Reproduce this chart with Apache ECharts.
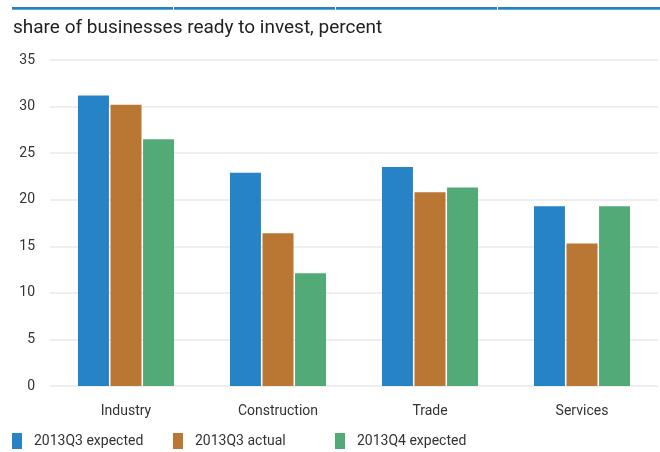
<!DOCTYPE html>
<html>
<head>
<meta charset="utf-8">
<script src="https://cdn.jsdelivr.net/npm/echarts@6/dist/echarts.min.js"></script>
<style>
  html, body { margin: 0; padding: 0; background: #fff; }
  #chart { width: 660px; height: 452px; }
</style>
</head>
<body>
<div id="chart"></div>
<script>
// Sectors and survey readings (percent of businesses ready to invest)
const categories = ['Industry', 'Construction', 'Trade', 'Services'];
const seriesNames = ['2013Q3 expected', '2013Q3 actual', '2013Q4 expected'];
const q3Expected = [31.2, 22.9, 23.5, 19.3];
const q3Actual = [30.2, 16.4, 20.8, 15.3];
const q4Expected = [26.5, 12.1, 21.3, 19.3];
const yTicks = [0, 5, 10, 15, 20, 25, 30, 35];

const colors = ['#2683C6', '#BA7733', '#52AB77'];
const labelFont = "Roboto, 'Liberation Sans', sans-serif";

const chart = echarts.init(document.getElementById('chart'), null, { renderer: 'canvas' });

// Header band split into four segments
const band = [];
const segX = [12, 173, 335, 497, 660];
for (let i = 0; i < 4; i++) {
  const x0 = segX[i] + (i ? 1 : 0);
  const w = segX[i + 1] - x0;
  band.push({ type: 'rect', shape: { x: x0, y: 7, width: w, height: 2 }, style: { fill: '#2680C2' } });
  band.push({ type: 'rect', shape: { x: x0, y: 9, width: w, height: 1 }, style: { fill: '#58A8E0' } });
}

const valueSets = [q3Expected, q3Actual, q4Expected];
const legendLeft = [12, 173, 335];

chart.setOption({
  animation: false,
  color: colors,
  title: {
    text: 'share of businesses ready to invest, percent',
    left: 8,
    top: 14,
    textStyle: { fontFamily: 'Roboto, sans-serif', fontSize: 19, fontWeight: 'normal', color: '#222' }
  },
  graphic: band,
  legend: seriesNames.map((n, i) => ({
    data: [n],
    left: legendLeft[i],
    top: 433,
    padding: 0,
    icon: 'rect',
    itemWidth: 10,
    itemHeight: 16,
    itemGap: 0,
    selectedMode: false,
    textStyle: { fontFamily: labelFont, fontSize: 14, color: '#333', padding: [0, 0, 0, 7] }
  })),
  grid: { left: 50, right: 2, top: 60, bottom: 66, containLabel: false },
  xAxis: {
    type: 'category',
    data: categories,
    axisLine: { show: false },
    axisTick: { show: false },
    axisLabel: { fontFamily: labelFont, fontSize: 14, color: '#333', margin: 18 }
  },
  yAxis: {
    type: 'value',
    min: yTicks[0],
    max: yTicks[yTicks.length - 1],
    interval: 5,
    axisLine: { show: false },
    axisTick: { show: false },
    axisLabel: { fontFamily: labelFont, fontSize: 14, color: '#333', margin: 15 },
    splitLine: { lineStyle: { color: '#e9e9e9', width: 1.5 } }
  },
  series: seriesNames.map((n, i) => ({
    name: n,
    type: 'bar',
    data: valueSets[i],
    barWidth: 31,
    barGap: '5%',
    itemStyle: { color: colors[i] }
  }))
});
</script>
</body>
</html>
